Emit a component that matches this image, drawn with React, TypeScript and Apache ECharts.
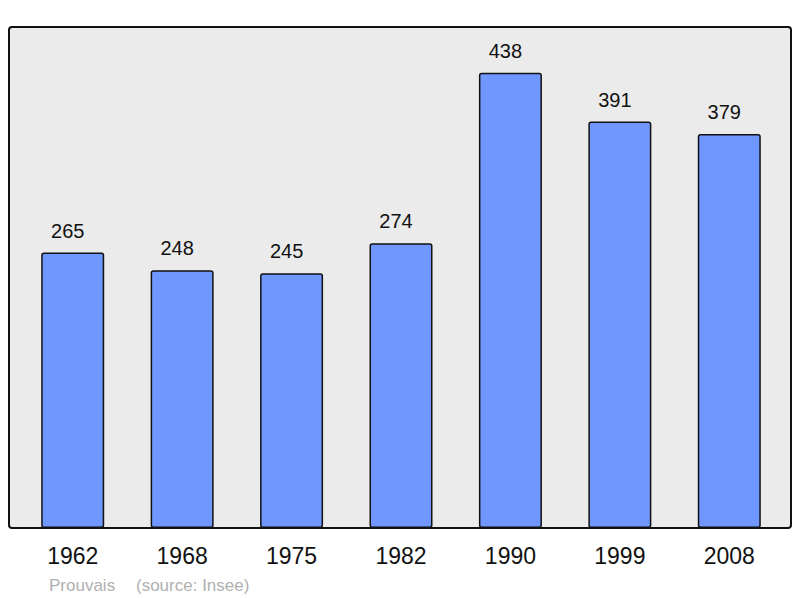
import { useEffect, useRef } from 'react';
import * as echarts from 'echarts';

const years = ['1962', '1968', '1975', '1982', '1990', '1999', '2008'];
const population = [265, 248, 245, 274, 438, 391, 379];
const commune = 'Prouvais';
const source = '(source: Insee)';

export default function App() {
  const chartRef = useRef<HTMLDivElement>(null);

  useEffect(() => {
    if (!chartRef.current) return;
    document.body.style.margin = '0';
    const chart = echarts.init(chartRef.current, undefined, { renderer: 'svg' });

    const option: echarts.EChartsOption = {
      animation: false,
      textStyle: { fontFamily: 'Liberation Sans' },
      graphic: [
        {
          type: 'rect',
          z: -10,
          shape: { x: 9, y: 27, width: 782, height: 501, r: 3 },
          style: { fill: '#ebebeb', stroke: '#111', lineWidth: 2 }
        },
        {
          type: 'text',
          left: 49,
          top: 577,
          style: { text: commune, fill: '#b0b0b0', fontSize: 17, fontFamily: 'Liberation Sans' }
        },
        {
          type: 'text',
          left: 136,
          top: 577,
          style: { text: source, fill: '#b0b0b0', fontSize: 17, fontFamily: 'Liberation Sans' }
        }
      ],
      grid: { left: 18, width: 766, top: 27, bottom: 70, containLabel: false },
      xAxis: {
        type: 'category',
        data: years,
        axisLine: { show: false },
        axisTick: { show: false },
        axisLabel: { color: '#111', fontSize: 23, margin: 16 }
      },
      yAxis: {
        type: 'value',
        min: 0,
        max: 482,
        show: false,
        splitLine: { show: false }
      },
      series: [
        {
          type: 'bar',
          data: population,
          barWidth: 63,
          itemStyle: { color: '#7096ff', borderColor: '#111', borderWidth: 1.5, borderRadius: 2 },
          label: {
            show: true,
            position: 'top',
            distance: 12,
            offset: [-5, 0],
            color: '#111',
            fontSize: 20
          }
        }
      ]
    };

    chart.setOption(option);
    return () => chart.dispose();
  }, []);

  return <div ref={chartRef} style={{ width: 800, height: 598, position: 'absolute', left: 0, top: 0 }} />;
}
